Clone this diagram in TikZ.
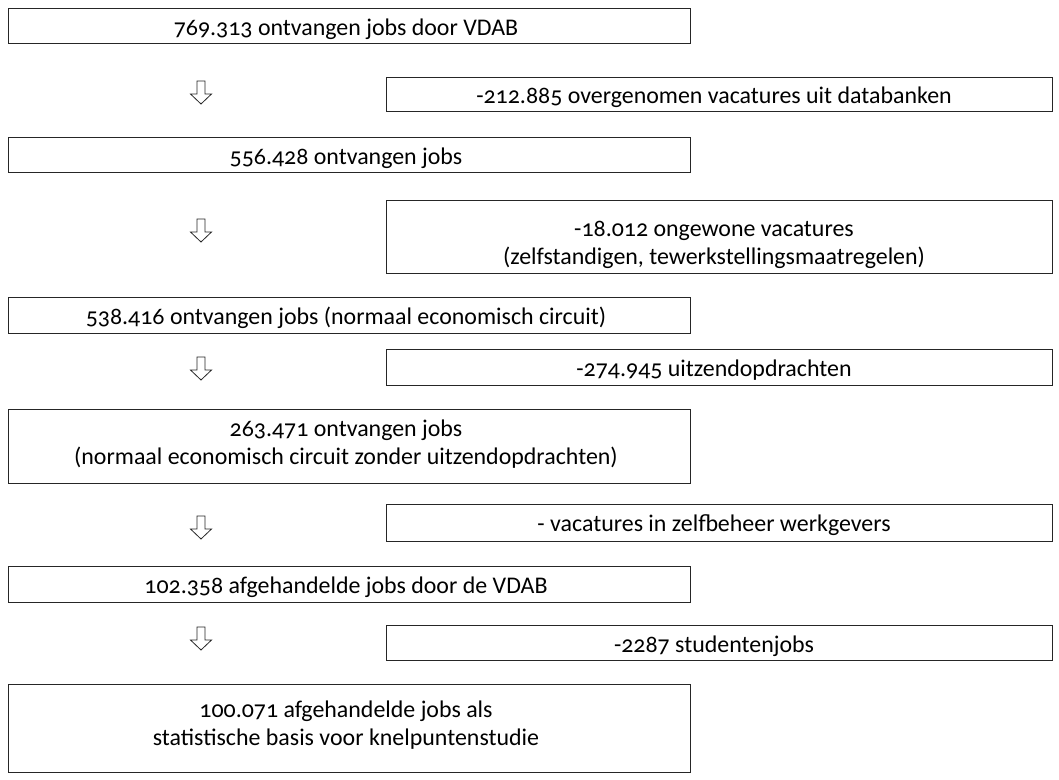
\documentclass[tikz,border=0pt]{standalone}
\usepackage{fontspec}
\setmainfont{Carlito}[Numbers=OldStyle]
\begin{document}
\begin{tikzpicture}[x=1bp,y=-1bp,
  box/.style={draw=black!85,line width=0.8bp,inner sep=0pt,outer sep=0pt},
  lbox/.style={box,minimum width=682bp},
  rbox/.style={box,minimum width=666bp},
  lbl/.style={font=\fontsize{24}{28.5}\selectfont,align=center,inner sep=0pt,yshift=-3bp},
  hollowarrow/.style={draw=black!85,line width=0.8bp,fill=white}]
\useasboundingbox (0,0) rectangle (1059,780);
% left boxes
\node[lbox,minimum height=35bp] (b1) at (349,25.5) {};
\node[lbl] (t1) at (346,26) {769.313 ontvangen jobs door VDAB};
\node[lbox,minimum height=35bp] (b2) at (349,154.5) {};
\node[lbl] (t2) at (346,155) {556.428 ontvangen jobs};
\node[lbox,minimum height=36bp] (b3) at (349,315) {};
\node[lbl] (t3) at (346,315) {538.416 ontvangen jobs (normaal economisch circuit)};
\node[lbox,minimum height=74bp] (b4) at (349,446) {};
\node[lbl] (t4) at (346,441) {263.471 ontvangen jobs\\(normaal economisch circuit zonder uitzendopdrachten)};
\node[lbox,minimum height=36bp] (b5) at (349,584) {};
\node[lbl] (t5) at (346,584) {102.358 afgehandelde jobs door de VDAB};
\node[lbox,minimum height=88bp] (b6) at (349,728) {};
\node[lbl] (t6) at (346,722) {100.071 afgehandelde jobs als\\statistische basis voor knelpuntenstudie};
% right boxes
\node[rbox,minimum height=34bp] (r1) at (719,94) {};
\node[lbl] (s1) at (714,94) {-212.885 overgenomen vacatures uit databanken};
\node[rbox,minimum height=73bp] (r2) at (719,236.5) {};
\node[lbl] (s2) at (714,242) {-18.012 ongewone vacatures\\(zelfstandigen, tewerkstellingsmaatregelen)};
\node[rbox,minimum height=36bp] (r3) at (719,367) {};
\node[lbl] (s3) at (714,367) {-274.945 uitzendopdrachten};
\node[rbox,minimum height=37bp] (r4) at (719,522.5) {};
\node[lbl] (s4) at (714,522) {- vacatures in zelfbeheer werkgevers};
\node[rbox,minimum height=35bp] (r5) at (719,642.5) {};
\node[lbl] (s5) at (714,643) {-2287 studentenjobs};
% hollow arrows
\foreach \n/\y in {a1/81,a2/219,a3/357,a4/516,a5/627}{
  \coordinate (\n) at (201,\y);
  \begin{scope}[shift={(\n)}]
  \draw[hollowarrow] (-4,0) -- (4,0) -- (4,13) -- (10.5,13)
    -- (0,23) -- (-10.5,13) -- (-4,13) -- cycle;
  \end{scope}
}
\end{tikzpicture}
\end{document}
